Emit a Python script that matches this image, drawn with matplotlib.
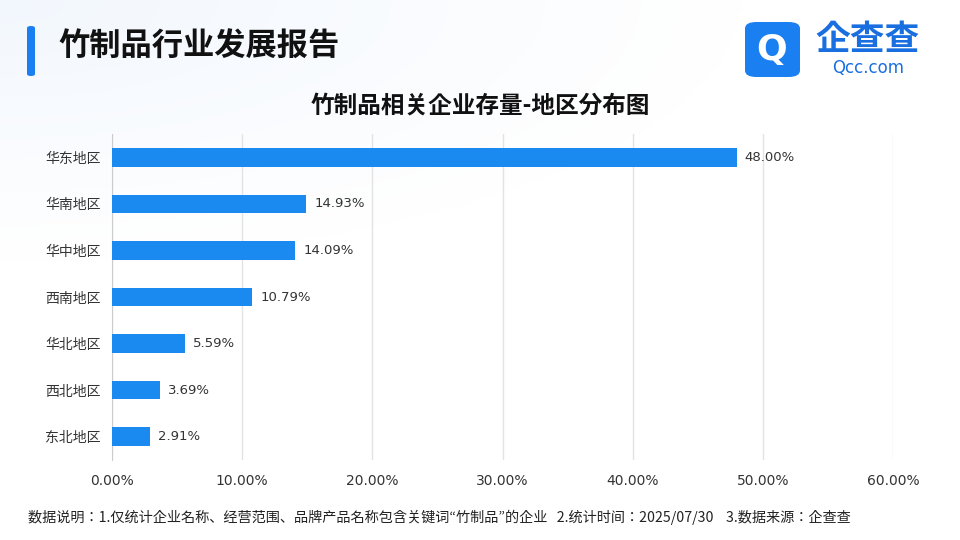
import matplotlib
matplotlib.use("Agg")
import matplotlib.pyplot as plt
from matplotlib import font_manager as fm
from matplotlib.patches import FancyBboxPatch
import numpy as np

cjk = [f for f in fm.findSystemFonts() if 'CJK' in f or 'cjk' in f.lower()]
cjk_sc = [f for f in cjk if 'SC' in f] or cjk
for f in cjk:
    try:
        fm.fontManager.addfont(f)
    except Exception:
        pass
names = sorted({fm.FontProperties(fname=f).get_name() for f in cjk_sc}) if cjk_sc else []
plt.rcParams['font.family'] = names + ['Noto Sans CJK SC', 'Noto Sans CJK JP', 'DejaVu Sans']

regions = ["华东地区", "华南地区", "华中地区", "西南地区", "华北地区", "西北地区", "东北地区"]
values = [48.00, 14.93, 14.09, 10.79, 5.59, 3.69, 2.91]
xticks = [0, 10, 20, 30, 40, 50, 60]

W, H = 960, 540
fig = plt.figure(figsize=(9.6, 5.4), dpi=100)

bg = fig.add_axes([0, 0, 1, 1], zorder=-10)
yy, xx = np.mgrid[0:1:200j, 0:1:200j]
g = np.clip(1 - np.sqrt((xx*1.0)**2 + ((1-yy)*1.6)**2) * 1.3, 0, 1)
img = np.ones((200, 200, 3))
img[..., 0] = 1 - 0.05 * g
img[..., 1] = 1 - 0.03 * g
img[..., 2] = 1 - 0.005 * g
bg.imshow(img, extent=[0, 1, 0, 1], aspect='auto', origin='lower')
bg.axis('off')

def fx(px): return px / W
def fy(py): return 1 - py / H

fig.patches.append(FancyBboxPatch((fx(27), fy(76)), fx(8), 50/H, boxstyle="round,pad=0,rounding_size=0.004",
                                  transform=fig.transFigure, fc="#1a7ff0", ec="none"))
fig.text(fx(58), fy(47), "竹制品行业发展报告", fontsize=22.5, fontweight='bold', va='center', color='#111111')

fig.patches.append(FancyBboxPatch((fx(745), fy(77)), fx(55), 55/H, boxstyle="round,pad=0,rounding_size=0.012",
                                  transform=fig.transFigure, fc="#1a7ff0", ec="none"))
fig.text(fx(772), fy(50), "Q", fontsize=26, fontweight='bold', color='white', ha='center', va='center', family='DejaVu Sans')
fig.text(fx(868), fy(40), "企查查", fontsize=25, fontweight='bold', color='#1a6fe0', ha='center', va='center')
fig.text(fx(868), fy(68), "Qcc.com", fontsize=12, color='#1a6fe0', ha='center', va='center', family='DejaVu Sans')

fig.text(fx(480), fy(106), "竹制品相关企业存量-地区分布图", fontsize=17, fontweight='bold', ha='center', va='center', color='#111111')

ax = fig.add_axes([fx(112), fy(460), fx(893) - fx(112), (460 - 134) / H])
ax.patch.set_alpha(0)
y = np.arange(len(regions))
ax.barh(y, values, height=0.4, color="#1a8af0", zorder=3)
for yi, v in zip(y, values):
    ax.text(v + 0.6, yi, f"{v:.2f}%", va='center', fontsize=9.5, color='#333333', family='DejaVu Sans')
ax.set_yticks(y)
ax.set_yticklabels(regions, fontsize=10, color='#333333')
ax.set_ylim(len(regions) - 0.5, -0.5)
ax.set_xlim(0, 60)
ax.set_xticks(xticks)
ax.set_xticklabels([f"{t:.2f}%" for t in xticks], fontsize=10, color='#333333', family='DejaVu Sans')
ax.grid(axis='x', color='#e3e3e3', lw=1, zorder=0)
for s in ['top', 'right', 'bottom']:
    ax.spines[s].set_visible(False)
ax.spines['left'].set_color('#cccccc')
ax.tick_params(axis='both', length=0, pad=10)
ax.tick_params(axis='y', pad=8)

fig.text(fx(28), fy(517), "数据说明：1.仅统计企业名称、经营范围、品牌产品名称包含关键词“竹制品”的企业   2.统计时间：2025/07/30    3.数据来源：企查查",
         fontsize=10.2, va='center', color='#222222')

fig.savefig("out.png", dpi=100)
